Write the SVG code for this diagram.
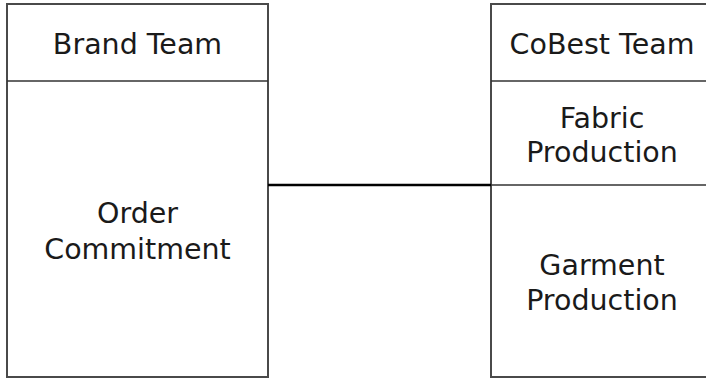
<svg xmlns="http://www.w3.org/2000/svg" width="706" height="378" viewBox="0 0 706 378">
<style>
.box{fill:#fff;stroke:#4a4a4a;stroke-width:2}
.div{stroke:#333;stroke-width:1.5}
.t{font-family:"DejaVu Sans",sans-serif;font-size:28.5px;fill:#1a1a1a;text-anchor:middle}
.conn{stroke:#000;stroke-width:2.5}
</style>
<rect width="706" height="378" fill="#fff"/>
<g id="brand-team">
<rect class="box" x="7" y="4" width="261" height="373"/>
<line class="div" x1="7" y1="81" x2="268" y2="81"/>
<text class="t" x="137.5" y="54">Brand Team</text>
<text class="t" x="137.5" y="223">Order</text>
<text class="t" x="137.5" y="259">Commitment</text>
</g>
<g id="cobest-team">
<rect class="box" x="491" y="4" width="230" height="373"/>
<line class="div" x1="491" y1="81" x2="706" y2="81"/>
<line class="div" x1="491" y1="185" x2="706" y2="185"/>
<text class="t" x="602" y="54">CoBest Team</text>
<text class="t" x="602" y="128">Fabric</text>
<text class="t" x="602" y="162">Production</text>
<text class="t" x="602" y="275">Garment</text>
<text class="t" x="602" y="310">Production</text>
</g>
<g id="connectors">
<line class="conn" x1="268" y1="185" x2="491" y2="185"/>
</g>
</svg>
